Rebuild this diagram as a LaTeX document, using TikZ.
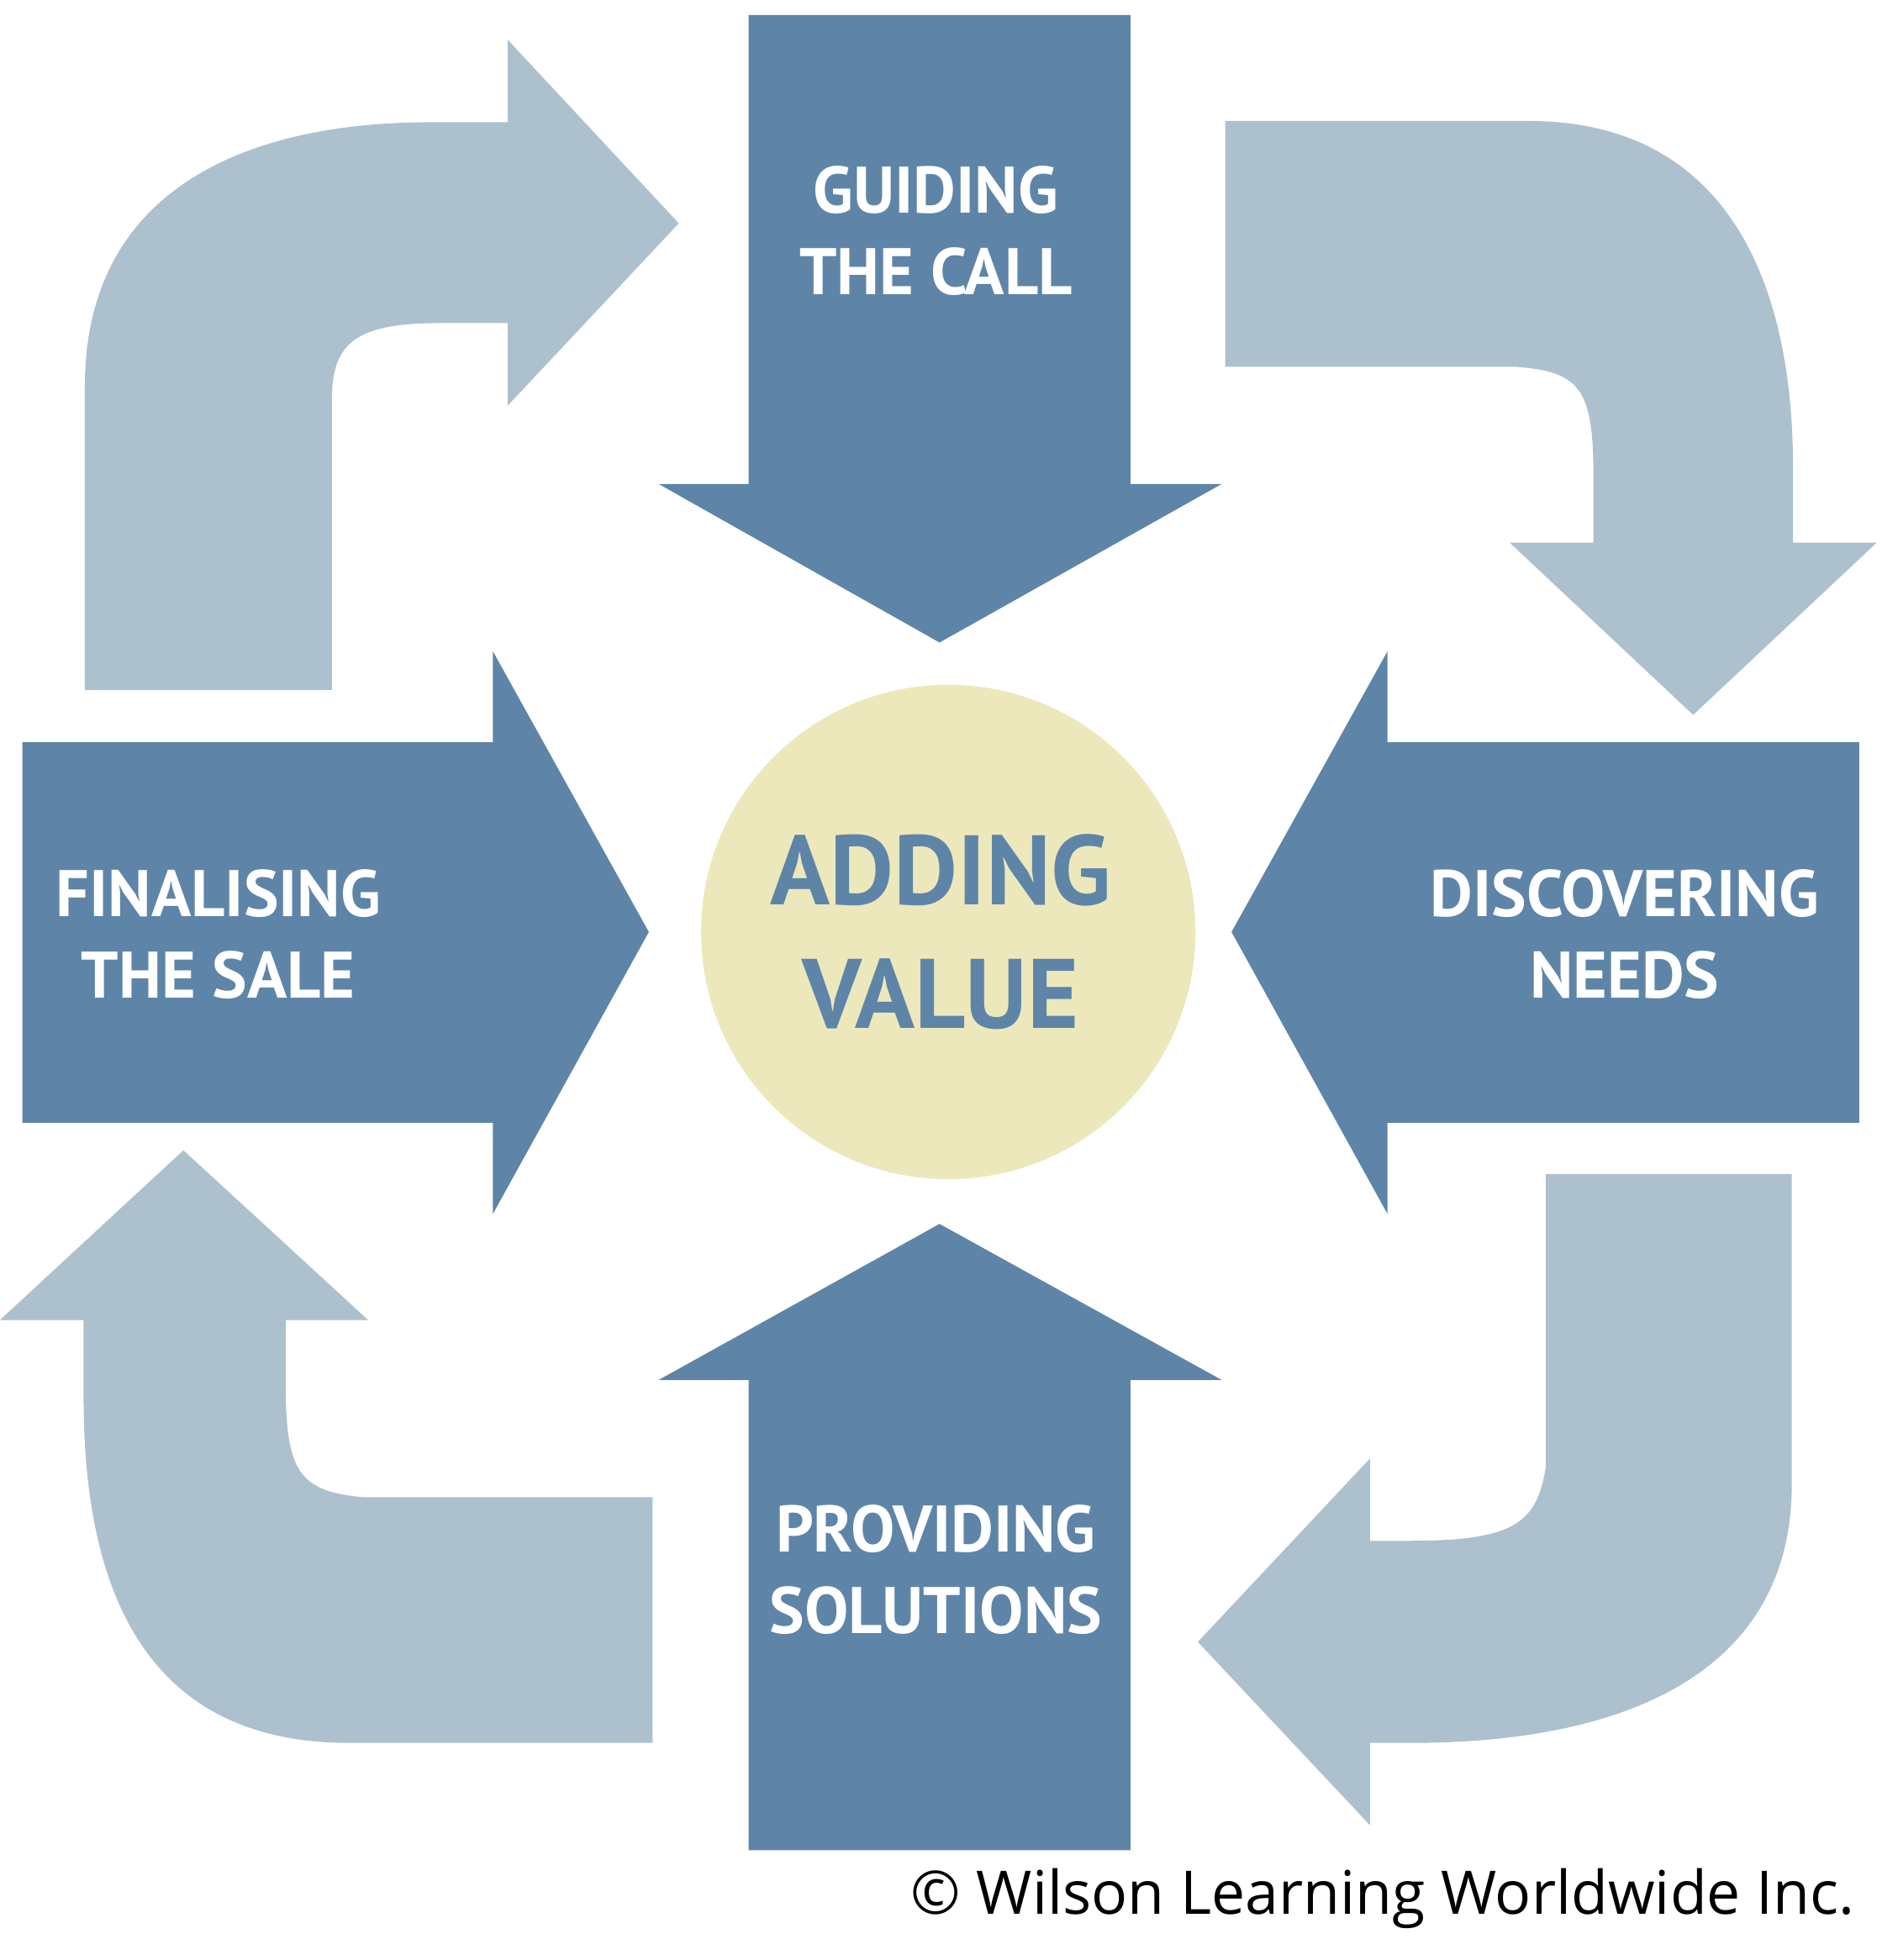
\documentclass[tikz,border=0pt]{standalone}
\usepackage{fontspec}
\setsansfont{PT Sans}
\newfontfamily\copyfont{Open Sans}
\definecolor{darkblue}{HTML}{5E85A8}
\definecolor{lightblue}{HTML}{ADC0CE}
\definecolor{paleyellow}{HTML}{ECE8BB}
\tikzset{
  stage arrow/.style={fill=darkblue, draw=none},
  turn arrow/.style={fill=lightblue, draw=none},
  stage label/.style={text=white, font=\sffamily\bfseries\fontsize{15}{18.5}\selectfont, align=center, inner sep=0pt}
}
\begin{document}
\begin{tikzpicture}[x=0.01cm, y=-0.01cm]
	\useasboundingbox (0,0) rectangle (1508,1571);

	% curved arrows
	\fill[turn arrow] (68,553) -- (68,310) .. controls (68,150) and (200,98) .. (345,98) -- (407,98) -- (407,32)
		-- (544,179) -- (407,325) -- (407,259) -- (352,259) .. controls (285,259) and (266,275) .. (266,320) -- (266,553) -- cycle;
	\fill[turn arrow] (982,97) -- (1225,97) .. controls (1380,97) and (1437,220) .. (1437,375) -- (1437,435) -- (1504,435)
		-- (1357,573) -- (1210,435) -- (1277,435) -- (1277,380) .. controls (1277,310) and (1265,298) .. (1215,294) -- (982,294) -- cycle;
	\fill[turn arrow] (1239,941) -- (1436,941) -- (1436,1190) .. controls (1436,1330) and (1320,1397) .. (1130,1397) -- (1098,1397) -- (1098,1463)
		-- (960,1316) -- (1098,1169) -- (1098,1235) -- (1130,1235) .. controls (1215,1235) and (1232,1220) .. (1239,1175) -- cycle;
	\fill[turn arrow] (523,1200) -- (523,1397) -- (280,1397) .. controls (120,1397) and (67,1280) .. (67,1120) -- (67,1058) -- (0,1058)
		-- (147,922) -- (295,1058) -- (229,1058) -- (229,1110) .. controls (229,1180) and (240,1195) .. (290,1200) -- cycle;

	% straight arrows
	\fill[stage arrow] (600,12) -- (906,12) -- (906,388) -- (979,388) -- (753,515) -- (528,388) -- (600,388) -- cycle;
	\fill[stage arrow] (600,1483) -- (906,1483) -- (906,1106) -- (979,1106) -- (753,981) -- (528,1106) -- (600,1106) -- cycle;
	\fill[stage arrow] (18,595) -- (395,595) -- (395,522) -- (520,747) -- (395,973) -- (395,900) -- (18,900) -- cycle;
	\fill[stage arrow] (1490,595) -- (1112,595) -- (1112,522) -- (987,747) -- (1112,973) -- (1112,900) -- (1490,900) -- cycle;

	% centre
	\node[circle, fill=paleyellow, minimum size=3.96cm, inner sep=0pt] (hub) at (760,747) {};
	\node[text=darkblue, font=\sffamily\bfseries\fontsize{22.5}{28}\selectfont, align=center] (value) at (754,747) {ADDING\\VALUE};

	\node[stage label] (guide) at (750,185) {GUIDING\\THE CALL};
	\node[stage label] (discover) at (1302,749) {DISCOVERING\\NEEDS};
	\node[stage label] (provide) at (750,1258) {PROVIDING\\SOLUTIONS};
	\node[stage label] (finalise) at (175,749) {FINALISING\\THE SALE};

	\node[font=\copyfont\fontsize{13.7}{16}\selectfont, anchor=east, inner sep=0pt] (copy) at (1487,1522) {© Wilson Learning Worldwide Inc.};
\end{tikzpicture}
\end{document}
